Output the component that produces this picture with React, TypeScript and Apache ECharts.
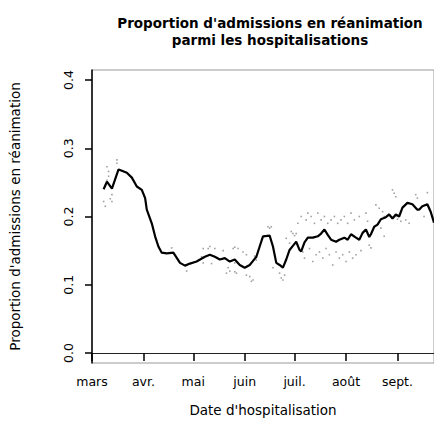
import React, { useEffect, useRef } from "react";
import * as echarts from "echarts";

const monthLabels = ["mars", "avr.", "mai", "juin", "juil.", "août", "sept."];
const monthTicks = ["2020-03-01", "2020-04-01", "2020-05-01", "2020-06-01", "2020-07-01", "2020-08-01", "2020-09-01"];
const yTicks = [0, 0.1, 0.2, 0.3, 0.4];

const lineDates = [
  "2020-03-08", "2020-03-10", "2020-03-13", "2020-03-16", "2020-03-17", "2020-03-19", "2020-03-22", "2020-03-25",
  "2020-03-28", "2020-03-31", "2020-04-02", "2020-04-03", "2020-04-06", "2020-04-08", "2020-04-10", "2020-04-12",
  "2020-04-15", "2020-04-19", "2020-04-23", "2020-04-26", "2020-04-29", "2020-05-03", "2020-05-08", "2020-05-11",
  "2020-05-14", "2020-05-17", "2020-05-20", "2020-05-23", "2020-05-26", "2020-05-29", "2020-06-01", "2020-06-04",
  "2020-06-06", "2020-06-08", "2020-06-10", "2020-06-12", "2020-06-16", "2020-06-18", "2020-06-20", "2020-06-22",
  "2020-06-24", "2020-06-26", "2020-06-28", "2020-06-30", "2020-07-02", "2020-07-04", "2020-07-05", "2020-07-07",
  "2020-07-09", "2020-07-12", "2020-07-15", "2020-07-17", "2020-07-19", "2020-07-21", "2020-07-23", "2020-07-26",
  "2020-07-28", "2020-07-31", "2020-08-02", "2020-08-04", "2020-08-07", "2020-08-09", "2020-08-11", "2020-08-13",
  "2020-08-15", "2020-08-16", "2020-08-18", "2020-08-20", "2020-08-22", "2020-08-25", "2020-08-27", "2020-08-29",
  "2020-08-31", "2020-09-02", "2020-09-04", "2020-09-07", "2020-09-10", "2020-09-13", "2020-09-14", "2020-09-16",
  "2020-09-19", "2020-09-21", "2020-09-23",
];
const lineValues = [
  0.24, 0.251, 0.241, 0.262, 0.269, 0.267, 0.264, 0.257,
  0.244, 0.239, 0.227, 0.21, 0.19, 0.171, 0.156, 0.147,
  0.146, 0.147, 0.132, 0.128, 0.131, 0.134, 0.141, 0.144,
  0.141, 0.137, 0.139, 0.134, 0.137, 0.129, 0.125, 0.129,
  0.135, 0.141, 0.156, 0.171, 0.172, 0.156, 0.132, 0.129,
  0.125, 0.137, 0.151, 0.157, 0.163, 0.151, 0.149, 0.162,
  0.169, 0.169, 0.171, 0.175, 0.181, 0.173, 0.166, 0.163,
  0.166, 0.169, 0.166, 0.174, 0.169, 0.166, 0.176, 0.181,
  0.17, 0.174, 0.185, 0.188, 0.196, 0.199, 0.203, 0.197,
  0.203, 0.2, 0.213, 0.22, 0.218, 0.21, 0.21, 0.215,
  0.218, 0.207, 0.191,
];

const dotDates = [
  "2020-03-08", "2020-03-09", "2020-03-10", "2020-03-10", "2020-03-11", "2020-03-11", "2020-03-12", "2020-03-13",
  "2020-03-13", "2020-03-16", "2020-03-16", "2020-03-09", "2020-04-18", "2020-04-27", "2020-05-06", "2020-05-07",
  "2020-05-07", "2020-05-10", "2020-05-11", "2020-05-12", "2020-05-14", "2020-05-19", "2020-05-21", "2020-05-22",
  "2020-05-23", "2020-05-25", "2020-05-26", "2020-05-26", "2020-05-26", "2020-05-27", "2020-05-28", "2020-05-31",
  "2020-06-02", "2020-06-02", "2020-06-04", "2020-06-05", "2020-06-06", "2020-06-07", "2020-06-08", "2020-06-15",
  "2020-06-16", "2020-06-17", "2020-06-18", "2020-06-22", "2020-06-23", "2020-06-24", "2020-06-25", "2020-06-26",
  "2020-06-28", "2020-06-29", "2020-06-30", "2020-07-01", "2020-07-02", "2020-07-03", "2020-07-05", "2020-07-06",
  "2020-07-07", "2020-07-08", "2020-07-09", "2020-07-10", "2020-07-11", "2020-07-12", "2020-07-13", "2020-07-14",
  "2020-07-15", "2020-07-16", "2020-07-17", "2020-07-18", "2020-07-19", "2020-07-20", "2020-07-21", "2020-07-22",
  "2020-07-23", "2020-07-24", "2020-07-25", "2020-07-26", "2020-07-27", "2020-07-28", "2020-07-29", "2020-07-30",
  "2020-07-31", "2020-08-01", "2020-08-02", "2020-08-03", "2020-08-04", "2020-08-05", "2020-08-06", "2020-08-07",
  "2020-08-09", "2020-08-10", "2020-08-13", "2020-08-14", "2020-08-15", "2020-08-16", "2020-08-19", "2020-08-21",
  "2020-08-22", "2020-08-23", "2020-08-24", "2020-08-24", "2020-08-29", "2020-08-30", "2020-08-31", "2020-08-31",
  "2020-09-01", "2020-09-03", "2020-09-06", "2020-09-08", "2020-09-12", "2020-09-13", "2020-09-17", "2020-09-19",
];
const dotValues = [
  0.222, 0.215, 0.273, 0.253, 0.266, 0.259, 0.226, 0.222,
  0.232, 0.283, 0.278, 0.245, 0.154, 0.12, 0.141, 0.153,
  0.132, 0.153, 0.156, 0.131, 0.153, 0.15, 0.117, 0.125,
  0.12, 0.153, 0.155, 0.132, 0.119, 0.117, 0.153, 0.148,
  0.144, 0.114, 0.112, 0.105, 0.107, 0.142, 0.136, 0.185,
  0.183, 0.185, 0.125, 0.117, 0.11, 0.107, 0.114, 0.168,
  0.161, 0.178, 0.175, 0.172, 0.175, 0.19, 0.2, 0.148,
  0.139, 0.195, 0.205, 0.153, 0.2, 0.134, 0.19, 0.144,
  0.205, 0.148, 0.195, 0.139, 0.2, 0.153, 0.19, 0.144,
  0.195, 0.129, 0.2, 0.148, 0.19, 0.139, 0.195, 0.144,
  0.2, 0.134, 0.19, 0.148, 0.205, 0.139, 0.195, 0.144,
  0.2, 0.15, 0.205, 0.193, 0.158, 0.154, 0.217, 0.212,
  0.183, 0.207, 0.171, 0.2, 0.239, 0.234, 0.229, 0.2,
  0.196, 0.193, 0.195, 0.19, 0.232, 0.227, 0.2, 0.235,
];

const toTime = (s: string) => {
  const [y, m, d] = s.split("-").map(Number);
  return Date.UTC(y, m - 1, d);
};

export default function App() {
  const ref = useRef<HTMLDivElement>(null);
  useEffect(() => {
    if (!ref.current) return;
    const chart = echarts.init(ref.current, null, { renderer: "svg" });
    const font = "DejaVu Sans";
    const tickTimes = monthTicks.map(toTime);
    chart.setOption({
      animation: false,
      backgroundColor: "#ffffff",
      title: {
        text: "Proportion d'admissions en réanimation\nparmi les hospitalisations",
        left: 265,
        top: 9,
        textAlign: "center",
        textStyle: { fontFamily: font, fontSize: 13.5, fontWeight: "bold", color: "#000", lineHeight: 17 },
      },
      grid: { left: 92, right: -2, top: 70, bottom: 81, show: true, borderColor: "#9a9a9a", borderWidth: 1 },
      xAxis: {
        type: "value",
        min: toTime("2020-03-01"),
        max: toTime("2020-09-23"),
        name: "Date d'hospitalisation",
        nameLocation: "middle",
        nameGap: 40,
        nameTextStyle: { fontFamily: font, fontSize: 13.5, color: "#000" },
        axisLine: { show: true, lineStyle: { color: "#222", width: 1 } },
        axisTick: { show: true, inside: false, length: 8, customValues: tickTimes, lineStyle: { color: "#000", width: 1.5 } },
        axisLabel: {
          customValues: tickTimes,
          margin: 12,
          fontFamily: font,
          fontSize: 12.5,
          color: "#000",
          formatter: (v: number) => monthLabels[new Date(v).getUTCMonth() - 2],
        },
        splitLine: { show: false },
      },
      yAxis: {
        type: "value",
        min: -0.0147,
        max: 0.4147,
        name: "Proportion d'admissions en réanimation",
        nameLocation: "middle",
        nameRotate: 90,
        nameGap: 70,
        nameTextStyle: { fontFamily: font, fontSize: 13.5, color: "#000" },
        axisLine: { show: true, lineStyle: { color: "#000", width: 1.5 } },
        axisTick: { show: true, inside: false, length: 7, customValues: yTicks, lineStyle: { color: "#000", width: 1.5 } },
        axisLabel: {
          customValues: yTicks,
          rotate: 90,
          margin: 17,
          fontFamily: font,
          fontSize: 12.5,
          color: "#000",
          formatter: (v: number) => v.toFixed(1),
        },
        splitLine: { show: false },
      },
      series: [
        {
          type: "scatter",
          data: dotDates.map((d, i) => [toTime(d), dotValues[i]]),
          symbol: "rect",
          symbolSize: 1.6,
          itemStyle: { color: "#8a8a8a" },
          silent: true,
        },
        {
          type: "line",
          data: lineDates.map((d, i) => [toTime(d), lineValues[i]]),
          showSymbol: false,
          lineStyle: { color: "#000", width: 2.2 },
          silent: true,
        },
      ],
    });
    return () => chart.dispose();
  }, []);
  return <div ref={ref} style={{ width: 434, height: 444, position: "absolute", left: 0, top: 0 }} />;
}
